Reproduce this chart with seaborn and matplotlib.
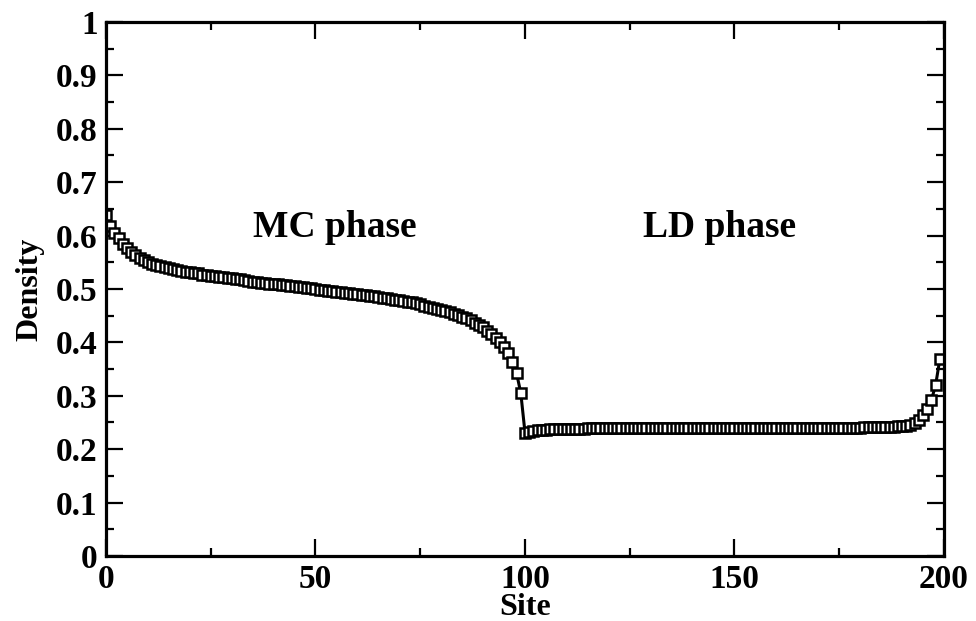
from matplotlib import pyplot as plt
from matplotlib.ticker import MultipleLocator, FuncFormatter
import seaborn as sns
import numpy as np
import pandas as pd

sns.set_style("ticks")
plt.rcParams['font.family'] = ['Liberation Serif', 'DejaVu Serif']
plt.rcParams['font.weight'] = 'bold'
plt.rcParams['text.color'] = 'black'
plt.rcParams['axes.labelcolor'] = 'black'
plt.rcParams['xtick.color'] = 'black'
plt.rcParams['ytick.color'] = 'black'
plt.rcParams['axes.edgecolor'] = 'black'

# density, one value per site
mc_density = [
	0.638, 0.618, 0.605, 0.595, 0.584, 0.576, 0.569, 0.563, 0.558, 0.554,
	0.550, 0.547, 0.545, 0.543, 0.541, 0.539, 0.537, 0.535, 0.533, 0.532,
	0.531, 0.530, 0.529, 0.527, 0.526, 0.525, 0.524, 0.523, 0.522, 0.521,
	0.520, 0.519, 0.518, 0.517, 0.515, 0.514, 0.513, 0.512, 0.511, 0.510,
	0.510, 0.509, 0.508, 0.507, 0.506, 0.505, 0.504, 0.503, 0.502, 0.501,
	0.500, 0.499, 0.498, 0.497, 0.496, 0.495, 0.494, 0.493, 0.492, 0.491,
	0.490, 0.489, 0.488, 0.487, 0.486, 0.485, 0.484, 0.483, 0.482, 0.480,
	0.479, 0.478, 0.476, 0.475, 0.473, 0.471, 0.469, 0.467, 0.465, 0.463,
	0.461, 0.459, 0.457, 0.454, 0.451, 0.448, 0.445, 0.441, 0.437, 0.433,
	0.428, 0.422, 0.415, 0.408, 0.400, 0.391, 0.380, 0.364, 0.342, 0.305,
]
ld_density = [
	0.231, 0.233, 0.234, 0.235, 0.236, 0.236, 0.237, 0.237, 0.237, 0.238,
	0.238, 0.238, 0.238, 0.238, 0.238, 0.239, 0.239, 0.239, 0.239, 0.239,
	0.239, 0.239, 0.239, 0.239, 0.239, 0.239, 0.239, 0.239, 0.239, 0.239,
	0.239, 0.239, 0.239, 0.239, 0.239, 0.239, 0.239, 0.239, 0.239, 0.239,
	0.239, 0.240, 0.240, 0.240, 0.240, 0.240, 0.240, 0.240, 0.240, 0.240,
	0.240, 0.240, 0.240, 0.240, 0.240, 0.240, 0.240, 0.240, 0.240, 0.240,
	0.240, 0.240, 0.240, 0.240, 0.240, 0.240, 0.240, 0.240, 0.240, 0.240,
	0.240, 0.240, 0.240, 0.240, 0.240, 0.240, 0.240, 0.240, 0.240, 0.240,
	0.240, 0.241, 0.241, 0.241, 0.241, 0.241, 0.241, 0.242, 0.242, 0.243,
	0.243, 0.244, 0.246, 0.249, 0.255, 0.264, 0.276, 0.292, 0.320, 0.368,
]
phase_labels = ["MC phase", "LD phase"]
phase_x = [54.5, 146.5]
phase_y = [0.615, 0.615]

density = mc_density + ld_density
df = pd.DataFrame({"site": np.arange(len(density)), "density": density})

fig = plt.figure(figsize=(9.76, 6.21), dpi=100)
ax = fig.add_axes([0.1086, 0.1047, 0.8586, 0.8599])

sns.lineplot(data=df, x="site", y="density", ax=ax, color="black", linewidth=2.2,
	marker="s", markersize=7, markerfacecolor="white", markeredgecolor="black",
	markeredgewidth=1.8)

for lbl, px, py in zip(phase_labels, phase_x, phase_y):
	ax.text(px, py, lbl, ha="center", va="center", fontsize=27, fontweight="bold")

ax.set_xlim(0, 200)
ax.set_ylim(0, 1)
ax.xaxis.set_major_locator(MultipleLocator(50))
ax.xaxis.set_minor_locator(MultipleLocator(25))
ax.yaxis.set_major_locator(MultipleLocator(0.1))
ax.yaxis.set_minor_locator(MultipleLocator(0.05))
ax.yaxis.set_major_formatter(FuncFormatter(lambda v, p: "%g" % round(v, 1)))

ax.tick_params(which="both", direction="in", top=True, right=True, width=1.6, labelsize=24, pad=6)
ax.tick_params(which="major", length=12)
ax.tick_params(which="minor", length=6)
for sp in ax.spines.values():
	sp.set_linewidth(2.3)
	sp.set_visible(True)

ax.set_xlabel("Site", fontsize=23, fontweight="bold", labelpad=-2)
ax.set_ylabel("Density", fontsize=23, fontweight="bold", labelpad=8)

plt.savefig("out.png", dpi=100)
